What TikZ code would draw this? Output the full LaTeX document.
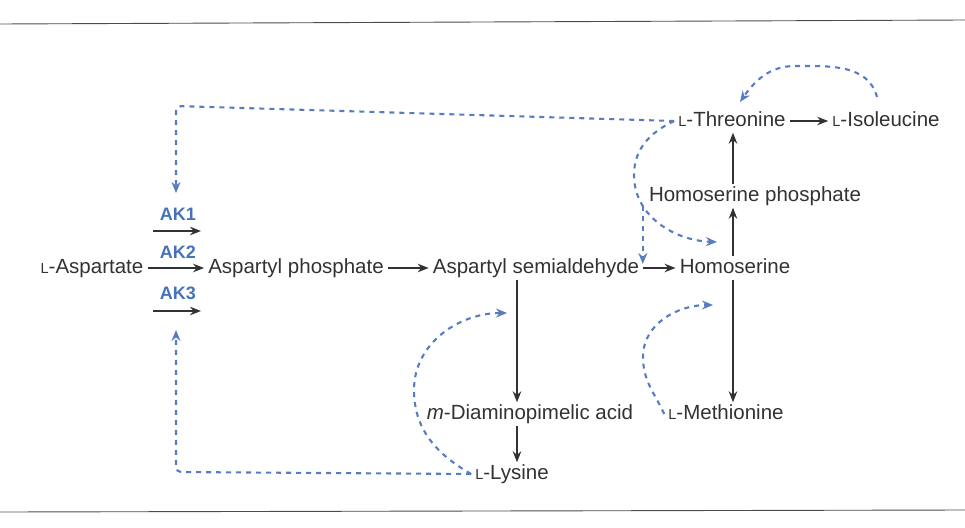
\documentclass[tikz,border=0pt]{standalone}
\usepackage{fontspec}
\setmainfont{Liberation Sans}
\usetikzlibrary{arrows.meta}
\definecolor{fbblue}{RGB}{88,124,192}
\definecolor{akblue}{RGB}{70,114,186}
\definecolor{ink}{RGB}{50,50,50}
\newcommand{\smL}{{\fontsize{14.5}{14.5}\selectfont L}}
\begin{document}
\begin{tikzpicture}[x=1pt,y=1pt,
  txt/.style={font=\fontsize{20.5}{24}\selectfont, text=ink, inner xsep=4pt, inner ysep=2pt, text height=15pt, text depth=4pt},
  aklab/.style={font=\fontsize{18}{22}\selectfont\bfseries, text=akblue, inner sep=1pt},
  rx/.style={draw=ink, line width=1.6pt, -{Stealth[length=11pt,width=8.5pt]}},
  fb/.style={draw=fbblue, line width=2.1pt, dash pattern=on 5pt off 5pt, -{Stealth[length=11pt,width=9pt]}},
  rule/.style={draw=black!70, line width=0.9pt}]
\useasboundingbox (0,0) rectangle (965,-527);
\draw[rule] (0,-24) -- (965,-20);
\draw[rule] (0,-512) -- (965,-510);
% main nodes
\node[txt] (asp) at (92,-268) {\smL-Aspartate};
\node[txt] (ap) at (296,-268) {Aspartyl phosphate};
\node[txt] (asa) at (536,-268) {Aspartyl semialdehyde};
\node[txt] (hs) at (735,-268) {Homoserine};
\node[txt] (hsp) at (755,-196) {Homoserine phosphate};
\node[txt] (thr) at (732,-121) {\smL-Threonine};
\node[txt] (ile) at (886,-121) {\smL-Isoleucine};
\node[txt] (met) at (726,-414) {\smL-Methionine};
\node[txt] (dap) at (530,-414) {\textit{m}-Diaminopimelic acid};
\node[txt] (lys) at (512,-474) {\smL-Lysine};
% AK labels
\node[aklab] (ak1) at (178,-214) {AK1};
\node[aklab] (ak2) at (178,-252) {AK2};
\node[aklab] (ak3) at (178,-293) {AK3};
% AK arrows
\coordinate (k1s) at (153,-231); \coordinate (k1e) at (201,-231);
\coordinate (k3s) at (153,-311); \coordinate (k3e) at (201,-311);
\draw[rx] (k1s) -- (k1e);
\draw[rx] (asp.east) -- (ap.west);
\draw[rx] (k3s) -- (k3e);
% main arrows
\draw[rx] (ap.east) -- (asa.west);
\draw[rx] (asa.east) -- (hs.west);
\draw[rx] (thr.east) -- (ile.west);
\coordinate (vx) at (733,0);
\coordinate (dx) at (517,0);
\draw[rx] (hs.north -| vx) -- (hsp.south -| vx);
\draw[rx] (hsp.north -| vx) -- (thr.south -| vx);
\draw[rx] (hs.south -| vx) -- (met.north -| vx);
\draw[rx] (asa.south -| dx) -- (dap.north -| dx);
\draw[rx] (dap.south -| dx) -- (lys.north -| dx);
% feedback (dashed blue)
\coordinate (ak1in) at (176,-193);
\coordinate (ak3in) at (176,-330);
\draw[fb, rounded corners=5pt] (thr.west) -- (176,-106) -- (ak1in);
\draw[fb, rounded corners=5pt] (lys.west) -- (176,-472) -- (ak3in);
\coordinate (asain) at (507,-313);
\draw[fb] (lys.west) to[out=150,in=270] (414,-390) to[out=90,in=180] (asain);
\coordinate (hsin) at (713,-305);
\draw[fb] (met.west) to[out=115,in=270] (643,-357) to[out=90,in=180] (hsin);
\coordinate (hsin2) at (717,-242);
\coordinate (hsin3) at (657,-264);
\draw[fb] (thr.west) to[out=205,in=90] (634,-175) to[out=270,in=178] coordinate[pos=0.28] (br) (hsin2);
\draw[fb] (br) -- (br |- hsin3);
\coordinate (ileout) at (877,-97);
\coordinate (thrin) at (740,-102);
\draw[fb] (ileout) to[out=105,in=0] (795,-66) to[out=180,in=55] (thrin);
\end{tikzpicture}
\end{document}
